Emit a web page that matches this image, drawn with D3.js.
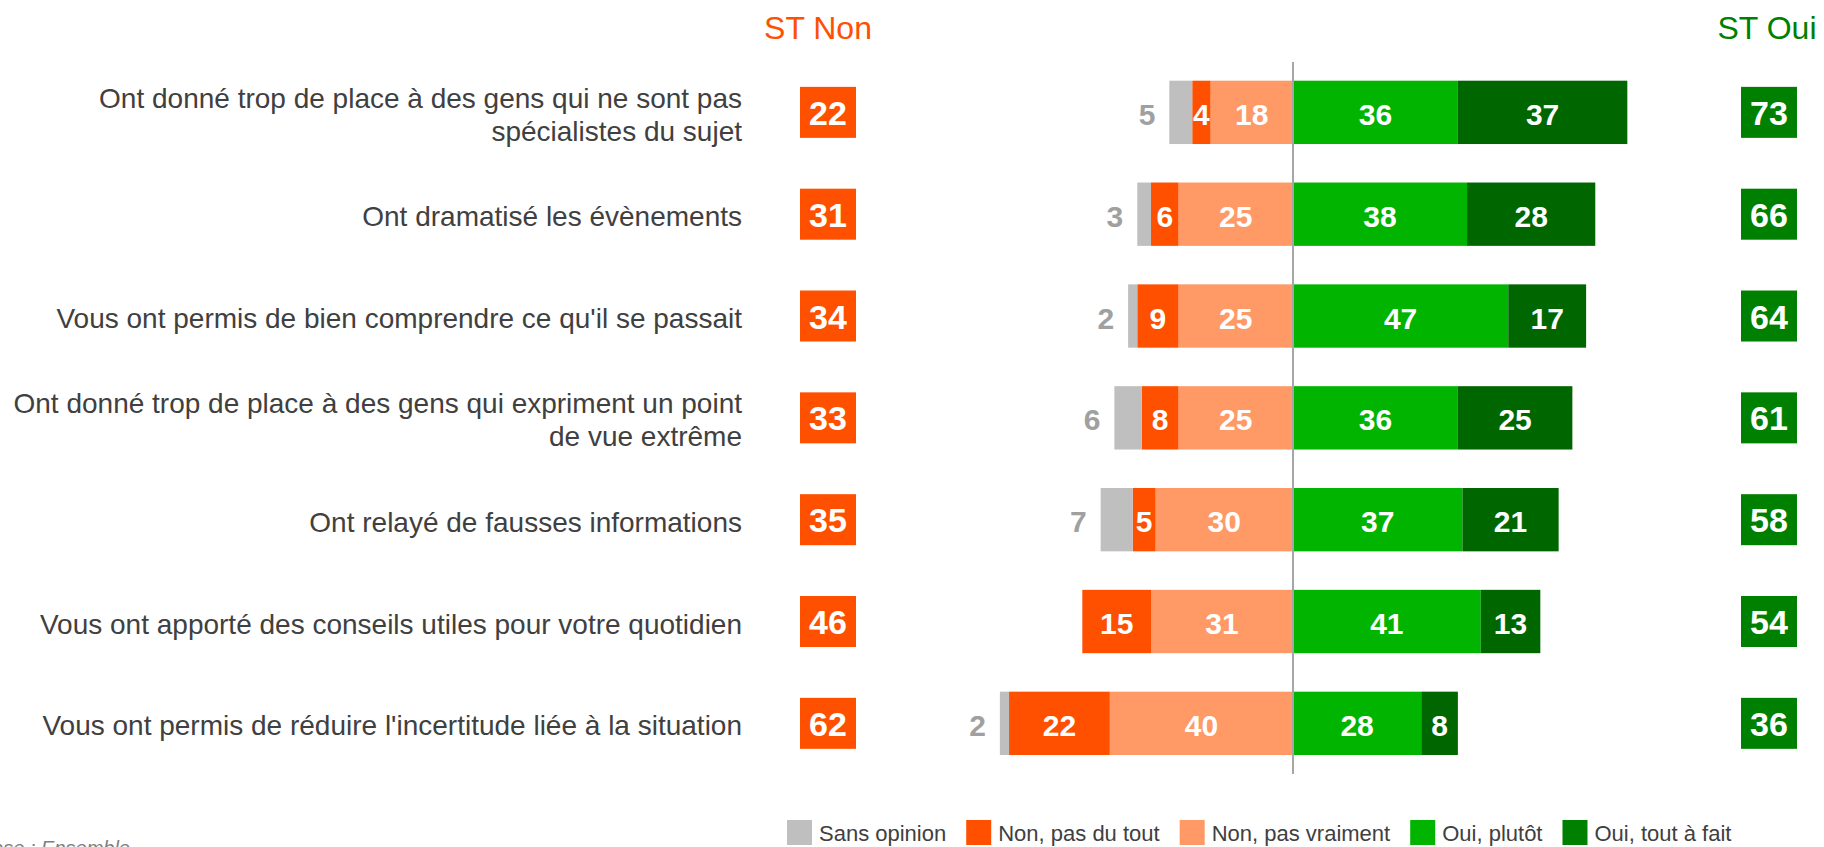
<!DOCTYPE html>
<html>
<head>
<meta charset="utf-8">
<script src="https://cdn.jsdelivr.net/npm/d3@7"></script>
<style>
  body { margin: 0; background: #fff; overflow: hidden; }
  svg { display: block; font-family: "Liberation Sans", Arial, sans-serif; }
</style>
</head>
<body>
<svg id="chart" width="1824" height="847"></svg>
<script>
// data
const categories = [
  "Ont donné trop de place à des gens qui ne sont pas\nspécialistes du sujet",
  "Ont dramatisé les évènements",
  "Vous ont permis de bien comprendre ce qu'il se passait",
  "Ont donné trop de place à des gens qui expriment un point\nde vue extrême",
  "Ont relayé de fausses informations",
  "Vous ont apporté des conseils utiles pour votre quotidien",
  "Vous ont permis de réduire l'incertitude liée à la situation"
];
const sansOpinion    = [5, 3, 2, 6, 7, 0, 2];
const nonPasDuTout   = [4, 6, 9, 8, 5, 15, 22];
const nonPasVraiment = [18, 25, 25, 25, 30, 31, 40];
const ouiPlutot      = [36, 38, 47, 36, 37, 41, 28];
const ouiToutAFait   = [37, 28, 17, 25, 21, 13, 8];
const stNon = [22, 31, 34, 33, 35, 46, 62];
const stOui = [73, 66, 64, 61, 58, 54, 36];
const legendLabels = ["Sans opinion", "Non, pas du tout", "Non, pas vraiment", "Oui, plutôt", "Oui, tout à fait"];

const colors = {
  sans: "#bfbfbf",
  nonTout: "#ff5000",
  nonVrai: "#ff9966",
  ouiPlutot: "#00b400",
  ouiTout: "#006600"
};
const legendColors = [colors.sans, colors.nonTout, colors.nonVrai, colors.ouiPlutot, "#008000"];

const svg = d3.select("#chart");

const x = d3.scaleLinear().domain([-100, 100]).range([835, 1751]);
const y = d3.scaleBand()
  .domain(d3.range(categories.length))
  .range([42.2, 793.5])
  .padding(0.378);
const bw = y.bandwidth();
const cy = i => y(i) + bw / 2;

// build segments: negative side stacks outward from 0
const rows = categories.map((c, i) => {
  const segs = [];
  let left = 0;
  [[nonPasVraiment[i], colors.nonVrai, "nv"], [nonPasDuTout[i], colors.nonTout, "nt"], [sansOpinion[i], colors.sans, "so"]]
    .forEach(([v, col, k]) => { segs.push({ x0: left - v, x1: left, v, col, k }); left -= v; });
  let right = 0;
  [[ouiPlutot[i], colors.ouiPlutot, "op"], [ouiToutAFait[i], colors.ouiTout, "ot"]]
    .forEach(([v, col, k]) => { segs.push({ x0: right, x1: right + v, v, col, k }); right += v; });
  return { i, segs, left };
});

const g = svg.append("g");

rows.forEach(r => {
  const row = g.append("g");
  row.selectAll("rect")
    .data(r.segs.filter(s => s.v > 0))
    .join("rect")
    .attr("x", s => x(s.x0))
    .attr("y", y(r.i))
    .attr("width", s => x(s.x1) - x(s.x0))
    .attr("height", bw)
    .attr("fill", s => s.col);

  row.selectAll("text")
    .data(r.segs.filter(s => s.v > 0))
    .join("text")
    .attr("x", s => s.k === "so" ? x(s.x0) - 14 : (x(s.x0) + x(s.x1)) / 2)
    .attr("y", cy(r.i))
    .attr("dy", "0.42em")
    .attr("text-anchor", s => s.k === "so" ? "end" : "middle")
    .attr("font-size", 30)
    .attr("font-weight", "bold")
    .attr("fill", s => s.k === "so" ? "#a0a0a0" : "#fff")
    .text(s => s.v);
});

// center line
svg.append("line")
  .attr("x1", x(0)).attr("x2", x(0))
  .attr("y1", 62).attr("y2", 774)
  .attr("stroke", "#a6a6a6").attr("stroke-width", 2);

// category labels
const lab = svg.append("g");
categories.forEach((c, i) => {
  const lines = c.split("\n");
  const t = lab.append("text")
    .attr("text-anchor", "end")
    .attr("font-size", 28)
    .attr("fill", "#404040");
  lines.forEach((ln, j) => {
    t.append("tspan")
      .attr("x", 742)
      .attr("y", cy(i) + 12 + (j - (lines.length - 1) / 2) * 33)
      .text(ln);
  });
});

// ST headers
svg.append("text").attr("x", 818).attr("y", 39).attr("text-anchor", "middle")
  .attr("font-size", 32).attr("fill", "#ff5000").text("ST Non");
svg.append("text").attr("x", 1767).attr("y", 39).attr("text-anchor", "middle")
  .attr("font-size", 32).attr("fill", "#008000").text("ST Oui");

// ST boxes
function boxes(vals, cx, col) {
  const bg = svg.append("g");
  bg.selectAll("rect").data(vals).join("rect")
    .attr("x", cx - 28).attr("y", (d, i) => cy(i) - 25.5)
    .attr("width", 56).attr("height", 51)
    .attr("fill", col);
  bg.selectAll("text").data(vals).join("text")
    .attr("x", cx).attr("y", (d, i) => cy(i))
    .attr("dy", "0.37em")
    .attr("text-anchor", "middle")
    .attr("font-size", 34).attr("font-weight", "bold")
    .attr("fill", "#fff")
    .text(d => d);
}
boxes(stNon, 828, "#ff5000");
boxes(stOui, 1769, "#008000");

// legend
const leg = svg.append("g");
let lx = 787;
legendLabels.forEach((l, i) => {
  leg.append("rect").attr("x", lx).attr("y", 820).attr("width", 25).attr("height", 25)
    .attr("fill", legendColors[i]);
  const t = leg.append("text").attr("x", lx + 32).attr("y", 841)
    .attr("font-size", 22).attr("fill", "#404040").text(l);
  lx += 32 + t.node().getComputedTextLength() + 20;
});

// footnote, clipped at the page edge as in the reference
svg.append("text").attr("x", 130).attr("y", 855).attr("text-anchor", "end")
  .attr("font-size", 20).attr("font-style", "italic").attr("fill", "#7f7f7f")
  .text("Base : Ensemble");
</script>
</body>
</html>
